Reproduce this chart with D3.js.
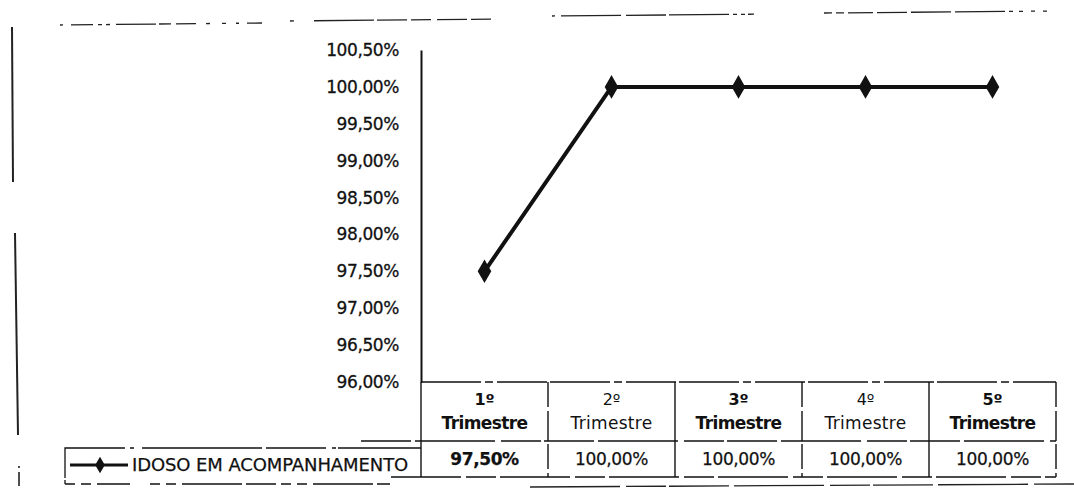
<!DOCTYPE html>
<html>
<head>
<meta charset="utf-8">
<script src="https://cdn.jsdelivr.net/npm/d3@7/dist/d3.min.js"></script>
<style>
  html, body { margin: 0; padding: 0; background: #fff; }
  svg text { font-family: "DejaVu Sans", sans-serif; fill: #111; }
</style>
</head>
<body>
<svg id="chart" width="1074" height="488"></svg>
<script>
// ---- data ----
const ordinals = ["1º", "2º", "3º", "4º", "5º"];
const categoryWord = "Trimestre";
const categories = ordinals.map(o => o + " " + categoryWord);
const values = [97.5, 100, 100, 100, 100];
const seriesName = "IDOSO EM ACOMPANHAMENTO";
const yTicks = [96, 96.5, 97, 97.5, 98, 98.5, 99, 99.5, 100, 100.5];
const boldHeader = [true, false, true, false, true];

// ---- setup ----
const locale = d3.formatLocale({ decimal: ",", thousands: ".", grouping: [3], currency: ["R$", ""] });
const fmt = v => locale.format(".2f")(v) + "%";

const svg = d3.select("#chart");
const plotLeft = 421, plotRight = 1056, plotTop = 50, plotBottom = 382;

const x = d3.scaleBand().domain(categories).range([plotLeft, plotRight]).padding(0);
const y = d3.scaleLinear().domain([96, 100.5]).range([plotBottom, plotTop]);
const cx = i => x(categories[i]) + x.bandwidth() / 2;

// scanned page frame fragments (decoration)
const frame = svg.append("g").attr("stroke", "#222").attr("fill", "none");
frame.append("path").attr("d", "M60,25 L262,23").attr("stroke-width", 1.3).attr("stroke-dasharray", "3,8,22,5,4,4,4,6,40,3,12,5,20,10,4,12,4,10");
frame.append("path").attr("d", "M290,21 L500,19").attr("stroke-width", 1.3).attr("stroke-dasharray", "4,20,60,3,30,4,20,6,30");
frame.append("path").attr("d", "M552,16 L776,14").attr("stroke-width", 1.3).attr("stroke-dasharray", "3,6,60,5,40,3,60,4,4,4,4");
frame.append("path").attr("d", "M824,13 L1055,11").attr("stroke-width", 1.3).attr("stroke-dasharray", "8,4,8,4,25,4,30,4,40,4,50,4,4,6,4");
frame.append("path").attr("d", "M12,27 L13,182").attr("stroke-width", 2);
frame.append("path").attr("d", "M15,233 L18,435").attr("stroke-width", 2);
frame.append("path").attr("d", "M19,466 L19,488").attr("stroke-width", 1.6).attr("stroke-dasharray", "2,4,14");
frame.append("path").attr("d", "M530,487 L1074,484").attr("stroke-width", 1.3).attr("stroke-dasharray", "90,6,40,3,60,5");

// ---- y axis ----
const yAxis = d3.axisLeft(y).tickValues(yTicks).tickFormat(fmt).tickSize(0).tickPadding(22);
const gy = svg.append("g").attr("transform", `translate(${plotLeft},0)`).call(yAxis);
gy.select(".domain").attr("stroke", "#111").attr("stroke-width", 2);
gy.selectAll("text").attr("font-size", 17).style("letter-spacing", "-0.4px")
  .attr("stroke", "#111").attr("stroke-width", 0.3);

// ---- data table ----
const headerTop = plotBottom, headerBottom = 441, rowBottom = 477;
const table = svg.append("g").attr("stroke", "#111").attr("stroke-width", 1.4).attr("fill", "none");
table.append("line").attr("x1", plotLeft).attr("x2", plotRight).attr("y1", headerTop).attr("y2", headerTop)
  .attr("stroke-dasharray", "60,4,8,4,50,3");
table.append("line").attr("x1", plotLeft - 60).attr("x2", plotRight).attr("y1", headerBottom).attr("y2", headerBottom)
  .attr("stroke-dasharray", "50,4,80,6,40,3");
table.append("line").attr("x1", plotLeft - 30).attr("x2", plotRight).attr("y1", rowBottom).attr("y2", rowBottom)
  .attr("stroke-dasharray", "70,5,30,4");
const edges = [plotLeft].concat(categories.map(c => x(c) + x.bandwidth()));
table.selectAll("line.v").data(edges).join("line")
  .attr("x1", d => d).attr("x2", d => d)
  .attr("y1", headerTop).attr("y2", rowBottom)
  .attr("stroke-dasharray", (d, i) => i % 2 ? "25,4,30,3" : null);

// header labels
const hdr = svg.append("g");
categories.forEach((c, i) => {
  const bw = boldHeader[i] ? "bold" : "normal";
  hdr.append("text").attr("x", cx(i)).attr("y", 405).attr("text-anchor", "middle")
    .attr("font-size", 16).attr("font-weight", bw).text(ordinals[i]);
  hdr.append("text").attr("x", cx(i)).attr("y", 429).attr("text-anchor", "middle")
    .attr("font-size", 17).attr("font-weight", bw)
    .style("letter-spacing", boldHeader[i] ? "-0.6px" : "0.3px").text(categoryWord);
});
// values row
svg.append("g").selectAll("text").data(values).join("text")
  .attr("x", (d, i) => cx(i))
  .attr("y", 465)
  .attr("text-anchor", "middle")
  .attr("font-size", 17)
  .attr("font-weight", (d, i) => i === 0 ? "bold" : "normal")
  .style("letter-spacing", "-0.4px")
  .attr("stroke", "#111").attr("stroke-width", 0.25)
  .text(d => fmt(d));

// legend key cell
const leg = svg.append("g");
leg.append("path").attr("d", "M65,484 L65,448 L421,448").attr("fill", "none")
  .attr("stroke", "#111").attr("stroke-width", 1.3).attr("stroke-dasharray", "4,2,90,5,4,8,120,4,60,6");
leg.append("path").attr("d", "M65,484 L130,484 M150,484 L390,484").attr("fill", "none")
  .attr("stroke", "#111").attr("stroke-width", 1.3).attr("stroke-dasharray", "10,6,10,6,60,4,30,5");
leg.append("line").attr("x1", 70).attr("x2", 128).attr("y1", 465).attr("y2", 465)
  .attr("stroke", "#111").attr("stroke-width", 3);
leg.append("path").attr("d", d3.symbol(d3.symbolDiamond, 80)()).attr("transform", "translate(100,465)").attr("fill", "#111");
leg.append("text").attr("x", 132).attr("y", 471).attr("font-size", 18).style("letter-spacing", "-0.1px")
  .attr("stroke", "#111").attr("stroke-width", 0.25).text(seriesName);

// ---- series ----
svg.append("path").datum(values)
  .attr("d", d3.line().x((d, i) => cx(i)).y(d => y(d)))
  .attr("fill", "none").attr("stroke", "#111").attr("stroke-width", 4);
svg.append("g").selectAll("path").data(values).join("path")
  .attr("d", d3.symbol(d3.symbolDiamond, 160)())
  .attr("transform", (d, i) => `translate(${cx(i)},${y(d)})`)
  .attr("fill", "#111");
</script>
</body>
</html>
